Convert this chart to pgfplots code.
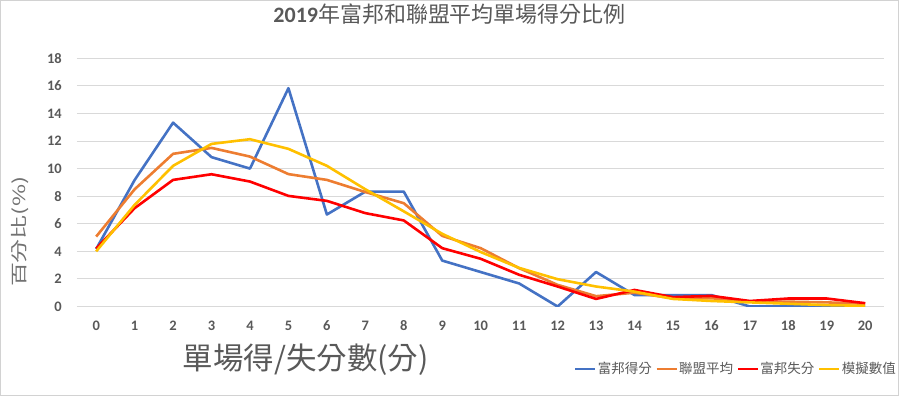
\documentclass[border=0pt]{standalone}
\usepackage{pgfplots}
\pgfplotsset{compat=1.18}
\usepackage{fontspec}
\setmainfont{Carlito}
\newfontfamily\cjk{Noto Sans CJK TC}
\definecolor{txtgray}{HTML}{595959}
\definecolor{gridgray}{HTML}{D9D9D9}
\definecolor{cblue}{HTML}{4472C4}
\definecolor{corange}{HTML}{ED7D31}
\definecolor{cred}{HTML}{FF0000}
\definecolor{cyellow}{HTML}{FFC000}
\begin{document}
\begin{tikzpicture}[x=1pt,y=1pt]
\draw[line width=1pt, gray!35] (0.5,0.5) rectangle (899.5,395.5);
\begin{axis}[
  at={(77pt,89.3pt)}, anchor=south west,
  scale only axis, width=808pt, height=248.4pt,
  xmin=-0.5, xmax=20.5, ymin=0, ymax=18,
  xtick={0,...,20}, ytick={0,2,...,18},
  axis line style={draw=none},
  major tick length=0pt,
  ymajorgrids, grid style={gridgray, line width=1pt},
  /pgf/number format/assume math mode=true,
  ticklabel style={font=\fontsize{14.5}{14.5}\selectfont\bfseries, text=txtgray},
  yticklabel style={anchor=east, inner sep=0pt, xshift=-15pt},
  xticklabel style={anchor=center, inner sep=0pt, yshift=-19.5pt},
  title={\fontsize{22}{22}\selectfont\bfseries 2019\cjk\mdseries 年富邦和聯盟平均單場得分比例},
  title style={at={(axis description cs:0.4616,1.1542)}, anchor=center, text=txtgray, inner sep=0pt},
  xlabel={\cjk\fontsize{30.5}{30.5}\selectfont 單場得/失分數(分)},
  xlabel style={at={(axis description cs:0.2834,-0.2146)}, anchor=center, text=txtgray, inner sep=0pt},
  ylabel={\cjk\fontsize{24}{24}\selectfont\scalebox{1}[0.7]{百分比(\%)}},
  ylabel style={at={(axis description cs:-0.0705,0.3007)}, anchor=center, text=txtgray!85, inner sep=0pt},
  legend columns=4,
  legend style={at={(axis description cs:0.8156,-0.2508)}, anchor=center, draw=none, fill=none,
    font=\cjk\fontsize{13.5}{13.5}\selectfont, text=txtgray,
    /tikz/every even column/.append style={column sep=2.5pt},
    nodes={inner sep=1.2pt}},
  legend image code/.code={\draw[#1, line width=2.5pt] (0pt,0pt) -- (20pt,0pt);},
  every axis plot/.append style={line width=2.6pt, line join=round},
]
\addplot[cblue, no markers] coordinates {
(0,4.17)(1,9.17)(2,13.33)(3,10.83)(4,10.0)(5,15.83)(6,6.67)(7,8.33)(8,8.33)(9,3.33)(10,2.5)
(11,1.67)(12,0)(13,2.5)(14,0.83)(15,0.83)(16,0.83)(17,0)(18,0)(19,0)(20,0)};
\addlegendentry{富邦得分}
\addplot[corange, no markers] coordinates {
(0,5.07)(1,8.5)(2,11.07)(3,11.5)(4,10.87)(5,9.6)(6,9.18)(7,8.3)(8,7.49)(9,5.12)(10,4.23)
(11,2.78)(12,1.57)(13,0.75)(14,1.0)(15,0.6)(16,0.6)(17,0.35)(18,0.35)(19,0.3)(20,0.2)};
\addlegendentry{聯盟平均}
\addplot[cred, no markers] coordinates {
(0,4.2)(1,7.13)(2,9.18)(3,9.59)(4,9.06)(5,8.02)(6,7.66)(7,6.77)(8,6.24)(9,4.23)(10,3.46)
(11,2.3)(12,1.45)(13,0.55)(14,1.2)(15,0.68)(16,0.77)(17,0.4)(18,0.58)(19,0.58)(20,0.24)};
\addlegendentry{富邦失分}
\addplot[cyellow, no markers] coordinates {
(0,4.0)(1,7.37)(2,10.2)(3,11.79)(4,12.13)(5,11.43)(6,10.2)(7,8.5)(8,6.9)(9,5.27)(10,3.95)
(11,2.8)(12,1.98)(13,1.45)(14,1.08)(15,0.55)(16,0.4)(17,0.3)(18,0.2)(19,0.1)(20,0.05)};
\addlegendentry{模擬數值}
\end{axis}
\end{tikzpicture}
\end{document}
